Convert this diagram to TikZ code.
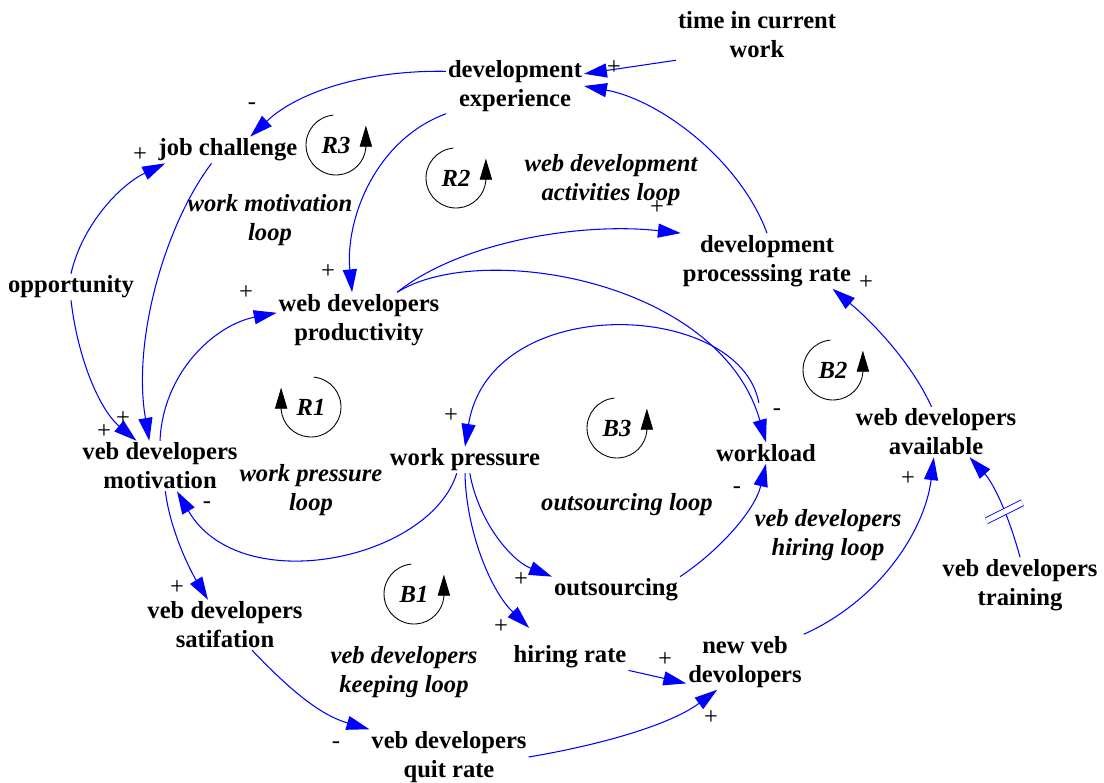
\documentclass[tikz,border=0pt]{standalone}
\usepackage{fontspec}
\setmainfont{Liberation Serif}
\usetikzlibrary{arrows.meta}
\tikzstyle{var}=[
	align=center,
	inner sep=1pt,
	font=\bfseries\fontsize{14}{16.5}\selectfont
]
\tikzstyle{looplabel}=[
	align=center,
	inner sep=1pt,
	font=\bfseries\itshape\fontsize{14}{16.5}\selectfont
]
\tikzstyle{looptag}=[
	inner sep=0pt,
	font=\bfseries\itshape\fontsize{14}{16.5}\selectfont
]
\tikzstyle{loopring}=[
	-{Triangle[length=12pt,width=7pt]},
	line width=0.5pt,
	black
]
\tikzstyle{link}=[
	-{Triangle[length=13pt,width=8pt]},
	line width=0.6pt,
	blue
]
\tikzstyle{sign}=[
	inner sep=0pt,
	font=\fontsize{14}{16}\selectfont
]

\begin{document}
\begin{tikzpicture}[x=0.02cm,y=-0.02cm]
\useasboundingbox (0,0) rectangle (1104,783);

% variables
\node [var] (timework) at (757,35) {time in current\\work};
\node [var] (devexp) at (515,86) {development\\experience};
\node [var] (jobch) at (228,150) {job challenge};
\node [var] (opp) at (71,287) {opportunity};
\node [var] (prod) at (359,320) {web developers\\productivity};
\node [var] (devrate) at (767,261) {development\\processsing rate};
\node [var] (motiv) at (160,466) {veb developers\\motivation};
\node [var] (wp) at (465,460) {work pressure};
\node [var] (workload) at (766,453) {workload};
\node [var] (avail) at (936,432) {web developers\\available};
\node [var] (training) at (1020,585) {veb developers\\training};
\node [var] (outs) at (616,590) {outsourcing};
\node [var] (hiring) at (570,657) {hiring rate};
\node [var] (satis) at (225,625) {veb developers\\satifation};
\node [var] (newdev) at (745,662) {new veb\\devolopers};
\node [var] (quit) at (449,757) {veb developers\\quit rate};

% loop names
\node [looplabel] (lpmotiv) at (270,220) {work motivation\\loop};
\node [looplabel] (lpactiv) at (611,180) {web development\\activities loop};
\node [looplabel] (lppress) at (311,490) {work pressure\\loop};
\node [looplabel] (lpouts) at (627,505) {outsourcing loop};
\node [looplabel] (lphire) at (828,535) {veb developers\\hiring loop};
\node [looplabel] (lpkeep) at (404,672) {veb developers\\keeping loop};

% loop markers
\node [looptag] (R3) at (336,145) {R3};
\draw [loopring] (R3) ++(-95:30) arc[start angle=-95, end angle=-355, radius=30] -- ++(0,-22);
\node [looptag] (R2) at (456,178) {R2};
\draw [loopring] (R2) ++(-95:30) arc[start angle=-95, end angle=-355, radius=30] -- ++(0,-22);
\node [looptag] (R1) at (311,407) {R1};
\draw [loopring] (R1) ++(-85:30) arc[start angle=-85, end angle=175, radius=30] -- ++(0,-22);
\node [looptag] (B3) at (617,428) {B3};
\draw [loopring] (B3) ++(-95:30) arc[start angle=-95, end angle=-355, radius=30] -- ++(0,-22);
\node [looptag] (B2) at (833,370) {B2};
\draw [loopring] (B2) ++(-95:30) arc[start angle=-95, end angle=-355, radius=30] -- ++(0,-22);
\node [looptag] (B1) at (414,594) {B1};
\draw [loopring] (B1) ++(-95:30) arc[start angle=-95, end angle=-355, radius=30] -- ++(0,-22);

% causal links
\draw [link] (timework.south west) -- (devexp.10);
\draw [link] (devrate.north) .. controls (740,160) and (660,100) .. (devexp.east);
\draw [link] (devexp.168) .. controls (370,70) and (300,90) .. (jobch.31);
\draw [link] (devexp.south west) .. controls (375,140) and (345,220) .. (prod.104);
\draw [link] (jobch.219) .. controls (165,225) and (132,340) .. (motiv.113);
\draw [link] (opp.north) .. controls (82,225) and (120,185) .. (jobch.192);
\draw [link] (opp.south) .. controls (78,360) and (100,410) .. (motiv.133);
\draw [link] (motiv.north) .. controls (163,372) and (215,325) .. (prod.175);
\draw [link] (prod.36) .. controls (460,242) and (580,222) .. (devrate.north west);
\draw [link] (prod.36) .. controls (480,240) and (720,280) .. (workload.north);
\draw [link, shorten <=0.8cm] (workload.north) .. controls (740,300) and (490,290) .. (wp.north);
\draw [link] (wp.238) .. controls (430,560) and (240,600) .. (motiv.304);
\draw [link] (wp.290) .. controls (478,520) and (510,560) .. (outs.north west);
\draw [link] (wp.south) .. controls (466,530) and (490,590) .. ([xshift=10pt,yshift=9pt]hiring.north west);
\draw [link] (outs.north east) .. controls (720,550) and (755,510) .. (workload.south);
\draw [link] (motiv.282) .. controls (170,530) and (190,570) .. (satis.124);
\draw [link] (satis.317) .. controls (290,690) and (320,715) .. (quit.north west);
\draw [link] (quit.east) .. controls (600,745) and (670,725) .. (newdev.225);
\draw [link] (hiring.south east) -- (newdev.200);
\draw [link] (newdev.north east) .. controls (880,600) and (925,530) .. (avail.265);
\draw [link] (avail.100) .. controls (910,360) and (870,320) .. (devrate.337);
\draw [link] (training.north) .. controls (1010,520) and (995,485) .. (avail.323) coordinate[pos=.42] (dly);
% delay mark
\draw [blue, line width=0.5pt, double distance=3pt] ([shift={(-18,9)}]dly) -- ([shift={(18,-9)}]dly);

% polarities
\node [sign] (sg1) at (614,68) {+};
\node [sign] (sg2) at (252,106) {-};
\node [sign] (sg3) at (328,272) {+};
\node [sign] (sg4) at (140,155) {+};
\node [sign] (sg5) at (104,432) {+};
\node [sign] (sg6) at (123,419) {+};
\node [sign] (sg7) at (246,293) {+};
\node [sign] (sg8) at (657,208) {+};
\node [sign] (sg9) at (777,412) {-};
\node [sign] (sg10) at (451,416) {+};
\node [sign] (sg11) at (207,505) {-};
\node [sign] (sg12) at (521,580) {+};
\node [sign] (sg13) at (501,627) {+};
\node [sign] (sg14) at (737,490) {-};
\node [sign] (sg15) at (177,588) {+};
\node [sign] (sg16) at (336,745) {-};
\node [sign] (sg17) at (711,718) {+};
\node [sign] (sg18) at (665,660) {+};
\node [sign] (sg19) at (908,479) {+};
\node [sign] (sg20) at (866,283) {+};
\end{tikzpicture}
\end{document}
